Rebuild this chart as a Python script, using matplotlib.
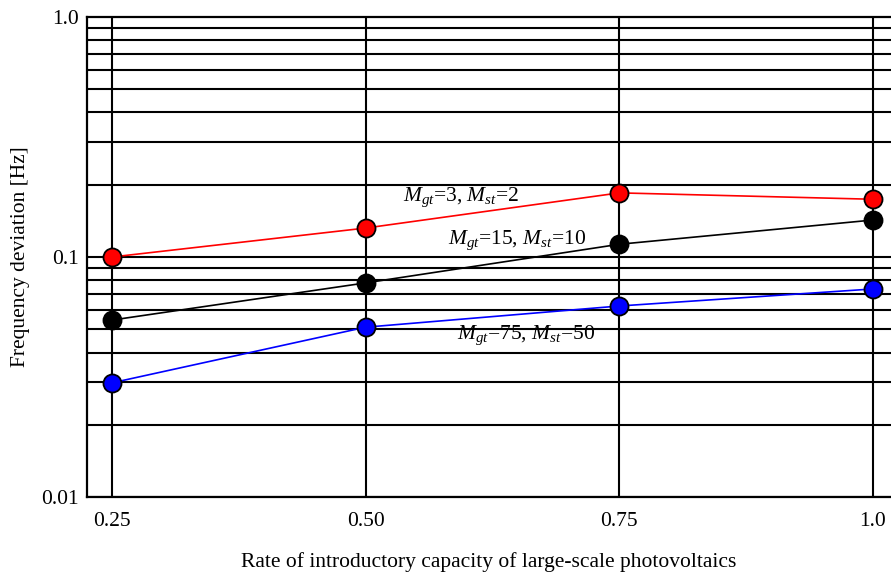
import numpy as np
import matplotlib
matplotlib.use('Agg')
import matplotlib.pyplot as plt

plt.rcParams['font.family'] = 'Liberation Serif'
plt.rcParams['mathtext.fontset'] = 'custom'
plt.rcParams['mathtext.rm'] = 'Liberation Serif'
plt.rcParams['mathtext.it'] = 'Liberation Serif:italic'

rate = [0.25, 0.50, 0.75, 1.0]
dev_3_2 = [0.100, 0.132, 0.185, 0.174]
dev_15_10 = [0.0546, 0.078, 0.113, 0.1426]
dev_75_50 = [0.0299, 0.051, 0.0625, 0.0736]
xtick_labels = ['0.25', '0.50', '0.75', '1.0']
ytick_vals = [0.01, 0.1, 1.0]
ytick_labels = ['0.01', '0.1', '1.0']

fig = plt.figure(figsize=(8.91, 5.72), dpi=100)
ax = fig.add_axes([0.0976, 0.1311, 0.9024, 0.8392])

ax.set_yscale('log')
ax.set_ylim(0.01, 1.0)
ax.set_xlim(0.2254, 1.0177)

# grid: vertical at each rate, horizontal at every decade step
for x in rate:
    ax.axvline(x, color='black', lw=1.5, zorder=1)
for dec in [0.01, 0.1]:
    for k in range(1, 10):
        ax.axhline(dec * k, color='black', lw=1.5, zorder=1)

ms = 13
ax.plot(rate, dev_3_2, color='red', lw=1.2, marker='o', ms=ms,
        markerfacecolor='red', markeredgecolor='black', markeredgewidth=1.3, zorder=3)
ax.plot(rate, dev_15_10, color='black', lw=1.2, marker='o', ms=ms,
        markerfacecolor='black', markeredgecolor='black', markeredgewidth=1.3, zorder=3)
ax.plot(rate, dev_75_50, color='blue', lw=1.2, marker='o', ms=ms,
        markerfacecolor='blue', markeredgecolor='black', markeredgewidth=1.3, zorder=3)

fs = 15.5
ax.text(0.594, 0.177, r'$M_{gt}$=3, $M_{st}$=2', fontsize=fs, ha='center', va='center')
ax.text(0.649, 0.117, r'$M_{gt}$=15, $M_{st}$=10', fontsize=fs, ha='center', va='center')
ax.text(0.658, 0.047, r'$M_{gt}$=75, $M_{st}$=50', fontsize=fs, ha='center', va='center',
        zorder=2)

ax.set_xticks(rate)
ax.set_xticklabels(xtick_labels, fontsize=fs)
ax.set_yticks(ytick_vals)
ax.set_yticklabels(ytick_labels, fontsize=fs)
ax.yaxis.set_minor_locator(matplotlib.ticker.NullLocator())
ax.tick_params(length=0, pad=11)
ax.tick_params(axis='y', pad=6)

ax.spines['right'].set_visible(False)
for s in ['left', 'bottom', 'top']:
    ax.spines[s].set_linewidth(1.6)

ax.set_xlabel('Rate of introductory capacity of large-scale photovoltaics', fontsize=fs, labelpad=15)
ax.set_ylabel('Frequency deviation [Hz]', fontsize=fs, labelpad=8)

fig.savefig('out.png', dpi=100)
